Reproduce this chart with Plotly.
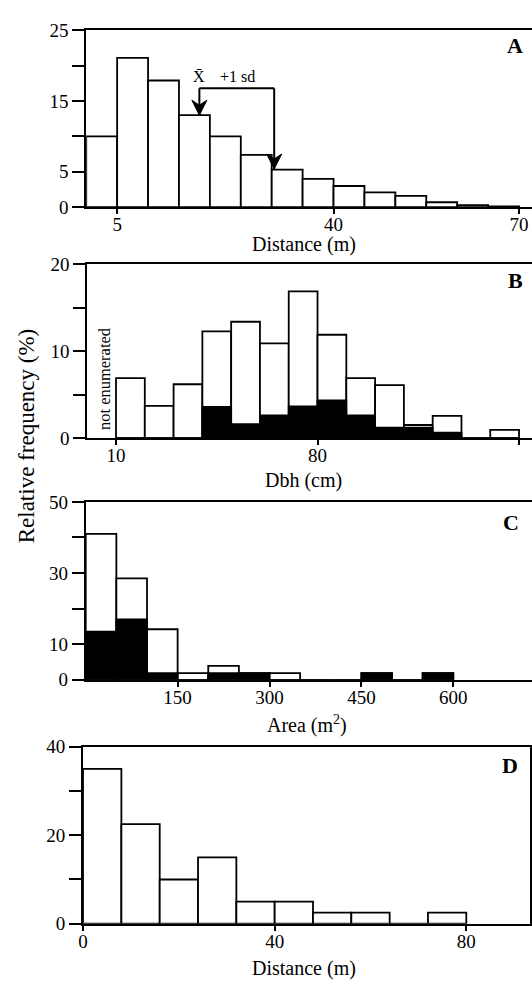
import plotly.graph_objects as go

# ---------------- data ----------------
A_edges = [0, 5, 10, 15, 20, 25, 30, 35, 40, 45, 50, 55, 60, 65, 70]
A_values = [10, 21.1, 17.9, 13, 10, 7.4, 5.3, 4, 3, 2.1, 1.6, 0.7, 0.3, 0.1]
A_xticks = [5, 40, 70]
A_yticks = [0, 5, 15, 25]
A_yminor = [10, 20]
A_mean = 18.3
A_mean_plus_sd = 30.4

B_edges = [10, 20, 30, 40, 50, 60, 70, 80, 90, 100, 110, 120, 130, 140, 150]
B_total = [6.9, 3.7, 6.2, 12.3, 13.4, 10.9, 16.9, 11.9, 6.9, 6.1, 1.5, 2.55, 0, 0.95]
B_black = [0, 0, 0, 3.6, 1.6, 2.6, 3.65, 4.35, 2.6, 1.2, 1.2, 0.63, 0, 0]
B_xticks = [10, 80, 150]
B_yticks = [0, 10, 20]
B_yminor = [5, 15]

C_edges = [0, 50, 100, 150, 200, 250, 300, 350, 400, 450, 500, 550, 600]
C_total = [41, 28.5, 14.2, 1.9, 3.9, 1.9, 1.9, 0, 0, 1.9, 0, 1.9]
C_black = [13.5, 17, 1.9, 0, 1.9, 1.9, 0, 0, 0, 1.9, 0, 1.9]
C_xticks = [150, 300, 450, 600]
C_yticks = [0, 10, 30, 50]
C_yminor = [20, 40]

D_edges = [0, 8, 16, 24, 32, 40, 48, 56, 64, 72, 80]
D_values = [35, 22.5, 10, 15, 5, 5, 2.5, 2.5, 0, 2.5]
D_xticks = [0, 40, 80]
D_yticks = [0, 20, 40]
D_yminor = [10, 30]

# ---------------- helpers ----------------
W, H = 532, 991
FONT = "Liberation Serif"


def px(v):
    return v / W


def py(v):
    return 1 - v / H


def centers(edges):
    return [(a + b) / 2 for a, b in zip(edges[:-1], edges[1:])]


def widths(edges):
    return [b - a for a, b in zip(edges[:-1], edges[1:])]


fig = go.Figure()


def add_bars(edges, vals, color, k):
    fig.add_trace(go.Bar(
        x=centers(edges), y=vals, width=widths(edges),
        marker=dict(color=color, line=dict(color="black", width=1.8)),
        xaxis="x" + ("" if k == 1 else str(k)),
        yaxis="y" + ("" if k == 1 else str(k)),
        showlegend=False, hoverinfo="skip",
    ))


add_bars(A_edges, A_values, "white", 1)
add_bars(B_edges, B_total, "white", 2)
add_bars(B_edges, B_black, "black", 2)
add_bars(C_edges, C_total, "white", 3)
add_bars(C_edges, C_black, "black", 3)
add_bars(D_edges, D_values, "white", 4)

tickfont = dict(family=FONT, size=19, color="black")


def xaxis(dom, rng, ticks, mirror=True):
    return dict(domain=dom, range=rng, tickvals=ticks, ticktext=[str(t) for t in ticks],
                showline=True, linecolor="black", linewidth=2, mirror=mirror,
                ticks="outside", ticklen=5, tickwidth=1.5, tickcolor="black",
                ticklabelstandoff=-6,
                showgrid=False, zeroline=False, tickfont=tickfont, fixedrange=True)


def yaxis(dom, rng, ticks, minor, mirror=False):
    return dict(domain=dom, range=rng, tickvals=ticks, ticktext=[str(t) for t in ticks],
                showline=True, linecolor="black", linewidth=2, mirror=mirror,
                ticks="outside", ticklen=12, tickwidth=1.5, tickcolor="black",
                minor=dict(tickvals=minor, ticks="outside", ticklen=12, tickwidth=1.5,
                           tickcolor="black", showgrid=False),
                showgrid=False, zeroline=False, tickfont=tickfont, fixedrange=True)


layout = dict(
    width=W, height=H, margin=dict(l=0, r=0, t=0, b=0),
    paper_bgcolor="white", plot_bgcolor="white", barmode="overlay",
    font=dict(family=FONT, color="black"),
    xaxis=dict(xaxis([px(82), 1], [0, 72.1], A_xticks), anchor="y"),
    yaxis=dict(yaxis([py(201.5), py(20.7)], [0, 25], A_yticks, A_yminor), anchor="x"),
    xaxis2=dict(xaxis([px(83), 1], [0, 154.5], B_xticks), anchor="y2"),
    yaxis2=dict(yaxis([py(437.3), py(260)], [0, 20], B_yticks, B_yminor), anchor="x2"),
    xaxis3=dict(xaxis([px(81.5), 1], [0, 728.5], C_xticks), anchor="y3"),
    yaxis3=dict(yaxis([py(684.3), py(502.5)], [0, 50], C_yticks, C_yminor), anchor="x3"),
    xaxis4=dict(xaxis([px(78.8), px(530)], [0, 93.3], D_xticks), anchor="y4"),
    yaxis4=dict(yaxis([py(933.5), py(752.7)], [0, 40], D_yticks, D_yminor, mirror=True), anchor="x4"),
)
fig.update_layout(**layout)

ann = []


def ptext(text, x, y, size, angle=0, bold=False):
    ann.append(dict(text=("<b>%s</b>" % text) if bold else text, x=px(x), y=py(y),
                    xref="paper", yref="paper", showarrow=False, textangle=angle,
                    xanchor="center", yanchor="middle",
                    font=dict(family=FONT, size=size, color="black")))


ptext("Distance (m)", 301.7, 240, 20)
ptext("Dbh (cm)", 301.4, 480.5, 20)
ptext("Area (m<sup>2</sup>)", 305, 729.5, 20)
ptext("Distance (m)", 301.4, 979.3, 20)
ptext("Relative frequency (%)", 21.7, 435, 23, angle=-90)
ptext("not enumerated", 100, 377, 16.5, angle=-90)
ptext("A", 515.3, 36.3, 22, bold=True)
ptext("B", 515, 276.7, 22, bold=True)
ptext("C", 511, 523.3, 22, bold=True)
ptext("D", 510, 772.3, 22, bold=True)

# mean / +1 sd bracket in panel A
bracket_y = 16.8
fig.add_shape(type="line", xref="x", yref="y", x0=A_mean, x1=A_mean_plus_sd,
              y0=bracket_y, y1=bracket_y, line=dict(color="black", width=2))
for xv, tip in [(A_mean, 13.0), (A_mean_plus_sd, 5.4)]:
    fig.add_shape(type="line", xref="x", yref="y", x0=xv, x1=xv, y0=bracket_y, y1=tip,
                  line=dict(color="black", width=2))
    fig.add_shape(type="path", xref="x", yref="y", xsizemode="pixel", ysizemode="pixel",
                  xanchor=xv, yanchor=tip,
                  path="M 0 0 L -7.5 15 L 0 10 L 7.5 15 Z",
                  fillcolor="black", line=dict(color="black", width=1))
ann.append(dict(x=A_mean, y=bracket_y, xref="x", yref="y", text="X\u0304",
                showarrow=False, yanchor="bottom", xanchor="center", yshift=1,
                font=dict(family=FONT, size=16, color="black")))
ann.append(dict(x=24.4, y=bracket_y, xref="x", yref="y", text="+1 sd",
                showarrow=False, yanchor="bottom", xanchor="center", yshift=1,
                font=dict(family=FONT, size=16, color="black")))

fig.update_layout(annotations=ann)
fig.write_html(
    "out.html",
    config={"displayModeBar": False},
    post_script="document.body.style.margin='0';document.body.style.overflow='hidden';",
)
